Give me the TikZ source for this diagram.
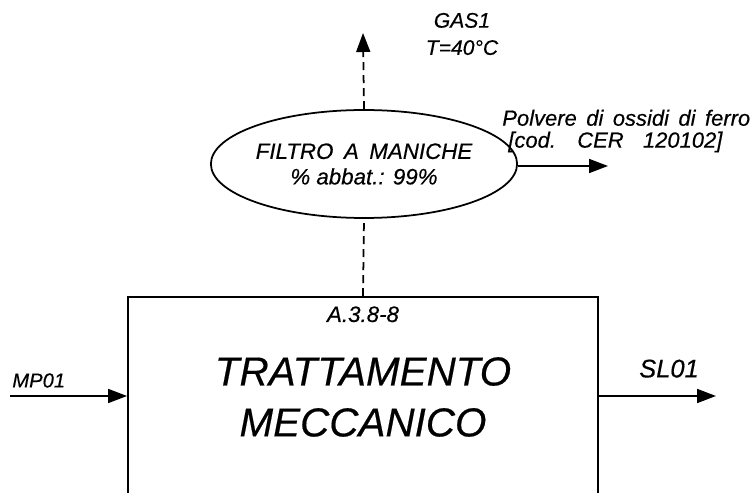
\documentclass[tikz,border=0pt]{standalone}
\usepackage{fontspec}
\setmainfont{Liberation Sans}[ItalicFeatures={FakeBold=0.4}]
\usetikzlibrary{arrows.meta,positioning,shapes.geometric}
\tikzset{
 proc/.style={draw,line width=1.1pt,minimum width=9.4cm,minimum height=5.2cm,inner sep=0pt},
 filtro/.style={draw,ellipse,line width=1pt,minimum width=5.16cm,minimum height=2.16cm,inner sep=0pt},
 arrow/.style={-{Triangle[length=3.8mm,width=2.8mm]},line width=1pt},
 dasharrow/.style={arrow,dash pattern=on 1.6mm off 1mm},
 lbl/.style={font=\itshape,inner sep=0pt,align=center}
}
\begin{document}
\begin{tikzpicture}[x=0.02cm,y=-0.02cm]
\useasboundingbox (0,0) rectangle (755,493);
\clip (0,0) rectangle (755,493);
% main block
\node[proc] (box) at (363,427) {};
\node[lbl,font=\itshape\fontsize{12.7}{14}\selectfont,below=2mm of box.north] (code) {A.3.8-8};
\node[lbl,font=\itshape\fontsize{23}{29}\selectfont] (title) at (363,397) {TRATTAMENTO\\MECCANICO};
% filter
\node[filtro,align=center,font=\itshape\fontsize{12.7}{14.5}\selectfont] (filter) at (364,164)
 {\spaceskip=6pt FILTRO A MANICHE\\\% abbat.: 99\%};
\coordinate (gasout) at (363,33);
\coordinate (dustout) at (608,166);
\coordinate (mpin) at (10,396);
\coordinate (slout) at (716,396);
\draw[dasharrow,-] (box.north) -- (filter.south);
\draw[dasharrow] (filter.north) -- (gasout);
\draw[arrow] (filter.east |- dustout) -- (dustout);
\draw[arrow] (mpin) -- (mpin -| box.west);
\draw[arrow] (slout -| box.east) -- (slout);
% labels
\node[lbl,font=\itshape\fontsize{12}{15.5}\selectfont] (gas) at (462,34) {GAS1\\T=40\textdegree C};
\node[lbl,align=left,anchor=west,font=\itshape\fontsize{12.5}{12.5}\selectfont] (dust) at (502,131)
 {\spaceskip=5.4pt Polvere di ossidi di ferro\\\hspace*{1.2mm}\spaceskip=11pt [cod. CER 120102]};
\node[lbl,anchor=south west,font=\itshape\fontsize{11.5}{13}\selectfont] (mp) at (12,388) {MP01};
\node[lbl,anchor=south,font=\itshape\fontsize{14.5}{16}\selectfont] (sl) at (669,378) {SL01};
\end{tikzpicture}
\end{document}
